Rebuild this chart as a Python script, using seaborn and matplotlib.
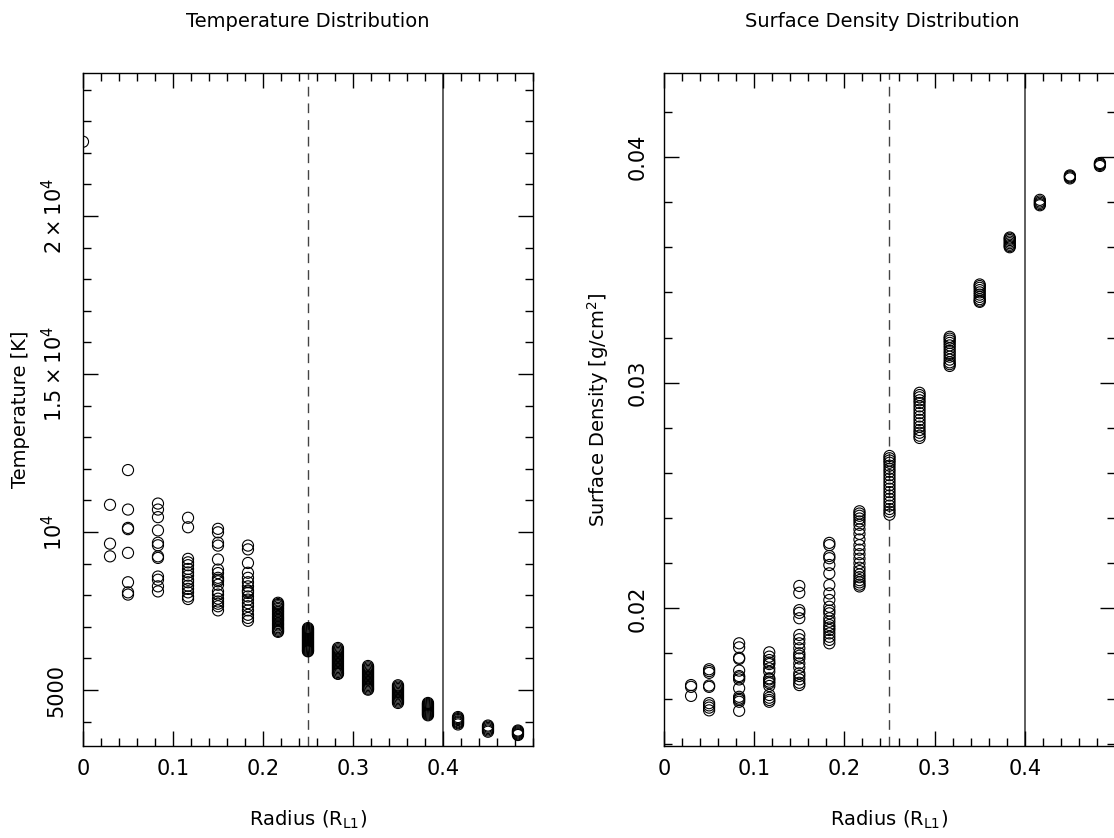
import numpy as np
import pandas as pd
import matplotlib
matplotlib.use("Agg")
import matplotlib.pyplot as plt
import seaborn as sns
from matplotlib.ticker import MultipleLocator

sns.set_theme(style="white")
plt.rcParams['font.family'] = ['DejaVu Sans']
plt.rcParams['mathtext.fontset'] = 'dejavusans'
plt.rcParams['text.color'] = 'black'
plt.rcParams['axes.labelcolor'] = 'black'
plt.rcParams['xtick.color'] = 'black'
plt.rcParams['ytick.color'] = 'black'

# ---------------- data ----------------
radii = [0.0, 0.03, 0.05, 0.0833, 0.1167, 0.15, 0.1833, 0.2167, 0.25,
         0.2833, 0.3167, 0.35, 0.3833, 0.4167, 0.45, 0.4833]

temp_r000 = [22350]
temp_r003 = [10860, 9630, 9230]
temp_r005 = [11960, 10710, 10130, 10090, 9340, 8410, 8090, 8020]
temp_r008 = [10900, 10710, 10470, 10050, 9660, 9580, 9230, 9180, 8590, 8490, 8280, 8120]
temp_r012 = [10450, 10150, 9150, 9040, 8950, 8830, 8720, 8620, 8490, 8410, 8300, 8200, 8090, 7960, 7880]
temp_r015 = [10100, 9990, 9660, 9570, 9130, 8810, 8700, 8550, 8490, 8440, 8330, 8120, 8020,
             7890, 7800, 7730, 7650, 7520]
temp_r018 = [9570, 9450, 9020, 8710, 8550, 8410, 8280, 8150, 8120, 8070, 7960, 7860, 7750,
             7650, 7520, 7380, 7280, 7190]
temp_r022 = [7760, 7720, 7690, 7650, 7600, 7560, 7510, 7470, 7420, 7380, 7330, 7290, 7250,
             7210, 7170, 7120, 7080, 7040, 6990, 6950, 6910, 6870, 6840]
temp_r025 = [6960, 6930, 6900, 6870, 6840, 6810, 6780, 6750, 6720, 6690, 6660, 6630, 6600,
             6570, 6540, 6510, 6480, 6450, 6420, 6390, 6360, 6330, 6300, 6270, 6240, 6225]
temp_r028 = [6330, 6290, 6250, 6210, 6170, 6130, 6090, 6050, 6010, 5970, 5930, 5890, 5850,
             5810, 5770, 5730, 5690, 5650, 5610, 5570, 5530, 5510]
temp_r032 = [5760, 5720, 5680, 5640, 5600, 5560, 5520, 5480, 5440, 5400, 5360, 5320, 5280,
             5240, 5200, 5160, 5120, 5080, 5040, 5010]
temp_r035 = [5150, 5110, 5070, 5030, 4990, 4950, 4910, 4870, 4830, 4790, 4750, 4710, 4670,
             4630, 4590]
temp_r038 = [4590, 4560, 4530, 4500, 4470, 4440, 4410, 4380, 4350, 4320, 4290, 4260, 4230, 4200]
temp_r042 = [4145, 4110, 4080, 4050, 4010, 3980, 3950, 3910]
temp_r045 = [3875, 3840, 3800, 3760, 3720, 3680]
temp_r048 = [3718, 3690, 3660, 3630, 3600, 3576]

dens_r003 = [0.01660, 0.01652, 0.01612]
dens_r005 = [0.01730, 0.01722, 0.01714, 0.01658, 0.01652, 0.01580, 0.01570, 0.01560, 0.01548]
dens_r008 = [0.01845, 0.01827, 0.01781, 0.01776, 0.01724, 0.01700, 0.01694, 0.01685, 0.01646,
             0.01608, 0.01600, 0.01594, 0.01586, 0.01546]
dens_r012 = [0.01805, 0.01786, 0.01771, 0.01760, 0.01753, 0.01734, 0.01719, 0.01690, 0.01685,
             0.01675, 0.01668, 0.01656, 0.01616, 0.01604, 0.01594, 0.01586]
dens_r015 = [0.02099, 0.02069, 0.01992, 0.01980, 0.01956, 0.01882, 0.01863, 0.01845, 0.01823,
             0.01801, 0.01790, 0.01778, 0.01756, 0.01737, 0.01712, 0.01700, 0.01685, 0.01670, 0.01660]
dens_r018 = [0.02290, 0.02280, 0.02232, 0.02222, 0.02192, 0.02155, 0.02103, 0.02066, 0.02037,
             0.02007, 0.01990, 0.01978, 0.01956, 0.01941, 0.01926, 0.01915, 0.01904, 0.01889,
             0.01874, 0.01860, 0.01845]
dens_r022 = [0.02430, 0.02420, 0.02410, 0.02398, 0.02385, 0.02370, 0.02350, 0.02330, 0.02305,
             0.02280, 0.02260, 0.02240, 0.02220, 0.02200, 0.02180, 0.02165, 0.02150, 0.02138,
             0.02125, 0.02115, 0.02105, 0.02097]
dens_r025 = [0.02675, 0.02665, 0.02655, 0.02645, 0.02632, 0.02618, 0.02605, 0.02590, 0.02575,
             0.02560, 0.02545, 0.02530, 0.02515, 0.02500, 0.02485, 0.02470, 0.02455, 0.02440,
             0.02428, 0.02415]
dens_r028 = [0.02955, 0.02945, 0.02935, 0.02922, 0.02910, 0.02895, 0.02880, 0.02865, 0.02850,
             0.02835, 0.02820, 0.02805, 0.02790, 0.02778, 0.02765, 0.02755]
dens_r032 = [0.03203, 0.03195, 0.03186, 0.03176, 0.03165, 0.03153, 0.03140, 0.03128, 0.03115,
             0.03102, 0.03090, 0.03082, 0.03074]
dens_r035 = [0.03435, 0.03428, 0.03420, 0.03410, 0.03400, 0.03390, 0.03380, 0.03370, 0.03363, 0.03358]
dens_r038 = [0.03643, 0.03638, 0.03632, 0.03625, 0.03618, 0.03611, 0.03605, 0.03600]
dens_r042 = [0.03810, 0.03803, 0.03797, 0.03791, 0.03786]
dens_r045 = [0.03918, 0.03914, 0.03910, 0.03905]
dens_r048 = [0.03973, 0.03969, 0.03965, 0.03960]

temp_cols = [temp_r000, temp_r003, temp_r005, temp_r008, temp_r012, temp_r015, temp_r018,
             temp_r022, temp_r025, temp_r028, temp_r032, temp_r035, temp_r038, temp_r042,
             temp_r045, temp_r048]
dens_cols = [[], dens_r003, dens_r005, dens_r008, dens_r012, dens_r015, dens_r018,
             dens_r022, dens_r025, dens_r028, dens_r032, dens_r035, dens_r038, dens_r042,
             dens_r045, dens_r048]

temp_df = pd.DataFrame([(r, v) for r, col in zip(radii, temp_cols) for v in col],
                       columns=["radius", "temperature"])
dens_df = pd.DataFrame([(r, v) for r, col in zip(radii, dens_cols) for v in col],
                       columns=["radius", "density"])

inner_edge = 0.25
outer_edge = 0.4

# ---------------- figure ----------------
W, H = 1114, 838
fig = plt.figure(figsize=(W / 100, H / 100), dpi=100)
fig.patch.set_facecolor("white")

ax1 = fig.add_axes([83 / W, (H - 746) / H, 450 / W, 673 / H])
ax2 = fig.add_axes([664 / W, (H - 746) / H, 451 / W, 673 / H])

fs = 14
for ax, df, ycol in [(ax1, temp_df, "temperature"), (ax2, dens_df, "density")]:
    sns.scatterplot(data=df, x="radius", y=ycol, ax=ax, marker="o", s=64,
                    linewidth=0.8, legend=False)
    for coll in ax.collections:
        coll.set_facecolor("none")
        coll.set_edgecolor("black")
    ax.axvline(inner_edge, color="#444444", lw=1.0, ls=(0, (7, 5)), zorder=0)
    ax.axvline(outer_edge, color="#333333", lw=1.1, zorder=0)
    ax.set_xlim(0, 0.5)
    ax.xaxis.set_minor_locator(MultipleLocator(0.02))
    ax.set_xticks([0, 0.1, 0.2, 0.3, 0.4], labels=["0", "0.1", "0.2", "0.3", "0.4"])
    ax.tick_params(which="both", direction="in", top=True, right=True,
                   left=True, bottom=True, color="black", width=1.0)
    ax.tick_params(which="major", length=11, labelsize=fs + 1, pad=9)
    ax.tick_params(which="minor", length=5.5)
    ax.tick_params(axis="y", labelrotation=90, pad=12)
    for sp in ax.spines.values():
        sp.set_color("black")
        sp.set_linewidth(1.0)
    ax.set_xlabel(r"Radius (R$_{\rm L1}$)", fontsize=fs, labelpad=22)
    ax.grid(False)

ax1.set_ylim(3228, 24525)
ax1.yaxis.set_minor_locator(MultipleLocator(1000))
ax1.set_yticks([5000, 10000, 15000, 20000],
               labels=["5000", r"$10^4$", r"$1.5\times10^4$", r"$2\times10^4$"])
ax1.set_ylabel("Temperature [K]", fontsize=fs, labelpad=8)
ax1.set_title("Temperature Distribution", fontsize=fs, pad=33)

ax2.set_ylim(0.0139, 0.04372)
ax2.yaxis.set_minor_locator(MultipleLocator(0.002))
ax2.set_yticks([0.02, 0.03, 0.04], labels=["0.02", "0.03", "0.04"])
ax2.set_ylabel(r"Surface Density [g/cm$^2$]", fontsize=fs, labelpad=12)
ax2.set_title("Surface Density Distribution", fontsize=fs, pad=33)
ax2.title.set_position((0.485, 1.0))

for ax in (ax1, ax2):
    for lab in ax.get_yticklabels():
        lab.set_va("center")

fig.savefig("out.png", dpi=100, facecolor="white")
